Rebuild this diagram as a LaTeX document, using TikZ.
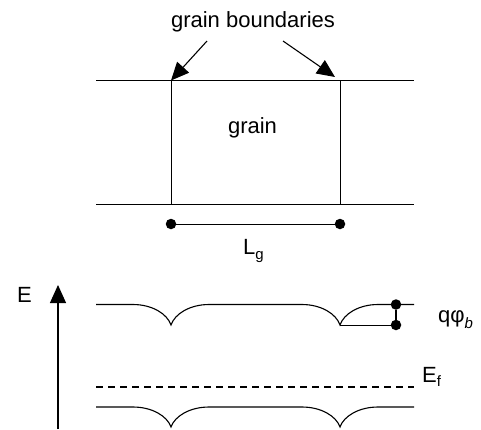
\documentclass[tikz,border=0pt]{standalone}
\usepackage{fontspec}
\setmainfont{Liberation Sans}
\usetikzlibrary{arrows.meta}
\newcommand{\bigtxt}{\fontsize{22}{26}\selectfont}
\newcommand{\subtxt}{\fontsize{15}{17}\selectfont}
\begin{document}
\begin{tikzpicture}[x=1pt,y=-1pt,
  ln/.style={line width=1.1pt},
  thin/.style={line width=1pt},
  lbl/.style={inner sep=0pt,font=\bigtxt},
  dot/.style={circle,fill=black,inner sep=0pt,minimum size=10.5pt},
  bigarrow/.style={line width=1.1pt,-{Triangle[length=18pt,width=16pt]}}]
\useasboundingbox (0,0) rectangle (481,429);
% top sketch
\coordinate (tl) at (96,80.5);
\coordinate (tr) at (414,80.5);
\coordinate (bl) at (96,204.5);
\coordinate (br) at (414,204.5);
\coordinate (g1t) at (171,80.5);
\coordinate (g1b) at (171,204.5);
\coordinate (g2t) at (340,80.5);
\coordinate (g2b) at (340,204.5);
\draw[ln] (tl) -- (tr);
\draw[ln] (bl) -- (br);
\draw[thin] (g1t) -- (g1b);
\draw[thin] (g2t) -- (g2b);
\node[lbl,anchor=base] (gb) at (253,27) {grain boundaries};
\coordinate (a1) at (207,41);
\coordinate (a2) at (283,41);
\coordinate (a2e) at (335,77);
\draw[bigarrow] (a1) -- (g1t);
\draw[bigarrow] (a2) -- (a2e);
\node[lbl,anchor=base] (grain) at (252.5,133) {grain};
\node[dot] (dl) at (171,224) {};
\node[dot] (dr) at (340,224) {};
\draw[thin] (dl) -- (dr);
\node[lbl,anchor=base west] (lg) at (243,254) {L\raisebox{-5pt}{\subtxt g}};
% energy axis
\coordinate (ebot) at (58,429);
\coordinate (etop) at (58,285);
\draw[bigarrow] (ebot) -- (etop);
\node[lbl,anchor=base west] (elab) at (17,302) {E};
% conduction band
\def\yc{304.5}\def\d{20.5}\def\w{38}
\draw[ln] (96,\yc) -- (171-\w,\yc)
  .. controls (171-0.5*\w,\yc) and (171-0.1*\w,\yc+0.45*\d) .. (171,\yc+\d)
  .. controls (171+0.1*\w,\yc+0.45*\d) and (171+0.5*\w,\yc) .. (171+\w,\yc)
  -- (340-\w,\yc)
  .. controls (340-0.5*\w,\yc) and (340-0.1*\w,\yc+0.45*\d) .. (340,\yc+\d)
  .. controls (340+0.1*\w,\yc+0.45*\d) and (340+0.5*\w,\yc) .. (340+\w,\yc)
  -- (414,\yc);
\coordinate (cusp) at (340,325);
\node[dot] (du) at (396,\yc) {};
\node[dot] (dd) at (396,325) {};
\draw[thin] (cusp) -- (dd);
\draw[ln] (du) -- (dd);
\node[lbl,anchor=base west] (qphi) at (438,322) {qφ\raisebox{-6pt}{\subtxt\itshape b}};
% Fermi level
\coordinate (fl) at (96,387);
\coordinate (fr) at (414,387);
\draw[ln,dash pattern=on 7pt off 5pt] (fl) -- (fr);
\node[lbl,anchor=base west] (ef) at (422,382) {E\raisebox{-4pt}{\subtxt f}};
% valence band
\def\yv{407}\def\dv{20}
\draw[ln] (96,\yv) -- (171-\w,\yv)
  .. controls (171-0.5*\w,\yv) and (171-0.1*\w,\yv+0.45*\dv) .. (171,\yv+\dv)
  .. controls (171+0.1*\w,\yv+0.45*\dv) and (171+0.5*\w,\yv) .. (171+\w,\yv)
  -- (340-\w,\yv)
  .. controls (340-0.5*\w,\yv) and (340-0.1*\w,\yv+0.45*\dv) .. (340,\yv+\dv)
  .. controls (340+0.1*\w,\yv+0.45*\dv) and (340+0.5*\w,\yv) .. (340+\w,\yv)
  -- (414,\yv);
\end{tikzpicture}
\end{document}
